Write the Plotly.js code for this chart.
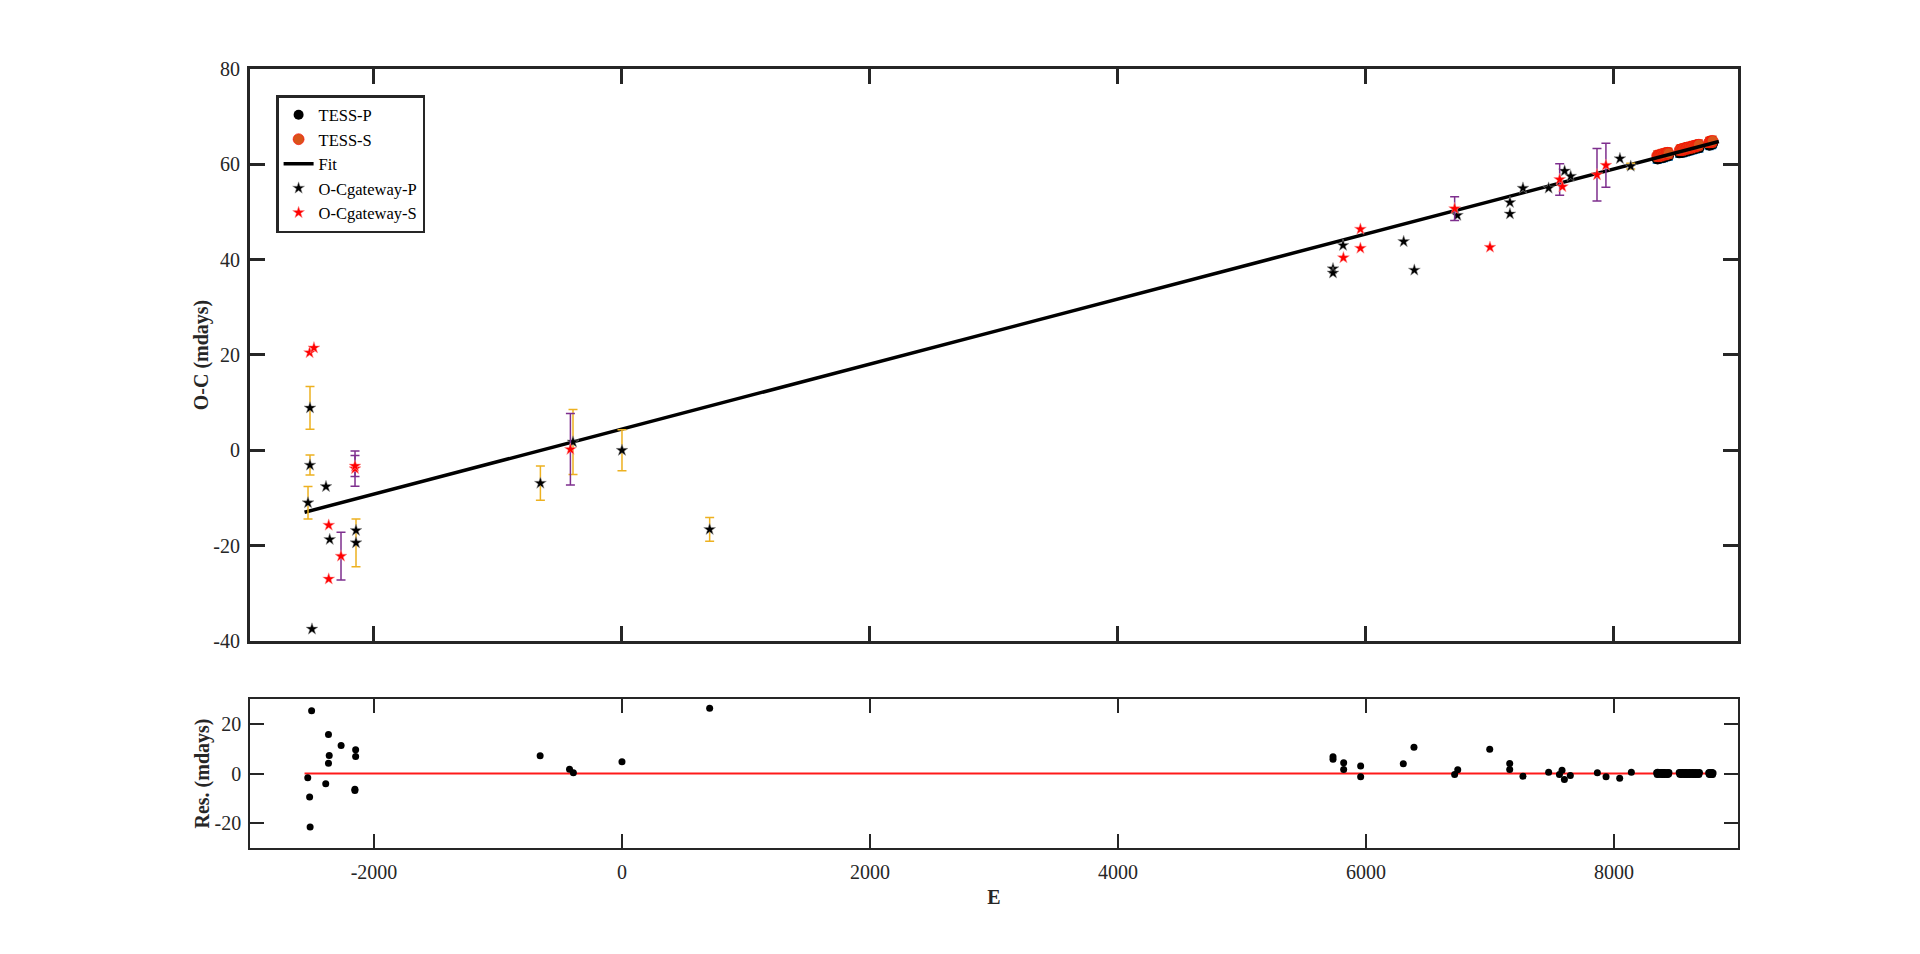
<!DOCTYPE html>
<html>
<head>
<meta charset="utf-8">
<script src="https://cdn.plot.ly/plotly-3.0.1.min.js"></script>
<style>
  html, body { margin: 0; padding: 0; background: #fff; }
  #oc_graph { width: 1920px; height: 954px; }
</style>
</head>
<body>
<div id="oc_graph"></div>
<script>
// O-Cgateway primary minima (epoch, O-C in mdays, error; NaN = no error bar)
var gwP_E   = [-2532, -2516, -2516, -2500, -2387, -2357, -2145, -2145, -658, -395, 0, 707,
               5734, 5734, 5815, 6304, 6390, 6737, 7161, 7161, 7266, 7473, 7602, 7651, 8048, 8135];
var gwP_OC  = [-11.0, -3.1, 8.9, -37.5, -7.6, -18.7, -16.8, -19.4, -6.9, 1.75, 0.0, -16.6,
               38.1, 37.2, 43.0, 43.8, 37.8, 49.3, 52.0, 49.6, 55.0, 55.0, 58.6, 57.5, 61.2, 59.6];
var gwP_err = [3.4, 2.1, 4.5, NaN, NaN, NaN, NaN, 5.0, 3.6, 6.8, 4.3, 2.5,
               NaN, NaN, NaN, NaN, NaN, NaN, NaN, NaN, NaN, NaN, NaN, NaN, NaN, 0.6];

// O-Cgateway secondary minima
var gwS_E   = [-2519, -2484, -2365, -2365, -2266, -2153, -2153, -416,
               5818, 5955, 5955, 6715, 7000, 7562, 7584, 7863, 7935];
var gwS_OC  = [20.5, 21.5, -15.7, -27.0, -22.2, -3.85, -3.3, 0.2,
               40.4, 46.4, 42.4, 50.7, 42.6, 56.8, 55.3, 57.8, 59.8];
var gwS_err = [NaN, NaN, NaN, NaN, 5.0, 3.7, 2.2, 7.5,
               NaN, NaN, NaN, 2.5, NaN, 3.3, NaN, 5.5, 4.6];

// TESS primary minima
var tessP_E  = [8344, 8352, 8361, 8369, 8378, 8386, 8395, 8403, 8411, 8420, 8428, 8437, 8443,
                8526, 8535, 8545, 8553, 8562, 8572, 8580, 8589, 8598, 8608, 8616, 8625, 8634, 8644, 8652, 8661, 8671, 8679, 8689,
                8764, 8771, 8779, 8785, 8792, 8799];
var tessP_OC = [61.1, 61.0, 61.3, 61.2, 61.4, 61.3, 61.5, 61.4, 61.6, 61.6, 61.7, 61.8, 61.7,
                62.3, 62.4, 62.5, 62.4, 62.6, 62.7, 62.6, 62.8, 62.9, 62.8, 63.0, 63.1, 63.0, 63.2, 63.3, 63.2, 63.4, 63.5, 63.4,
                64.0, 63.9, 64.1, 64.2, 64.1, 64.3];
var tessP_err = 0.8;

// TESS secondary minima
var tessS_E  = [8348.5, 8356.5, 8365.5, 8373.5, 8382.5, 8390.5, 8399.5, 8407.5, 8415.5, 8424.5, 8432.5, 8440.5,
                8530.5, 8540.5, 8549.5, 8558.5, 8567.5, 8576.5, 8585.5, 8594.5, 8603.5, 8612.5, 8621.5, 8630.5, 8639.5, 8648.5, 8657.5, 8666.5, 8675.5, 8684.5,
                8767.5, 8775.5, 8782.5, 8788.5, 8795.5];
var tessS_OC = [61.8, 61.7, 61.9, 61.8, 62.0, 62.1, 62.0, 62.2, 62.1, 62.3, 62.4, 62.3,
                63.0, 63.1, 63.0, 63.2, 63.3, 63.2, 63.4, 63.5, 63.4, 63.6, 63.5, 63.7, 63.8, 63.7, 63.9, 63.9, 64.0, 64.1,
                64.6, 64.7, 64.8, 64.7, 64.9];
var tessS_err = 1.0;

// linear ephemeris fit (end points)
var fit_E  = [-2560, 8846];
var fit_OC = [-13.0, 64.8];

// residuals (mdays)
var resGw_E = [-2534, -2519, -2515, -2503, -2389, -2367, -2361, -2367, -2265, -2148, -2148, -2154, -2154, -660, -423, -392, 0, 707,
               5734, 5734, 5820, 5820, 5957, 5957, 6301, 6387, 6715, 6740, 6998, 7159, 7159, 7266, 7473, 7560, 7581, 7600, 7648, 7866, 7936, 8046, 8140];
var resGw_V = [-1.7, -9.5, -21.5, 25.3, -4.1, 15.7, 7.3, 4.1, 11.3, 9.6, 6.8, -6.3, -6.8, 7.1, 1.7, 0.3, 4.7, 26.3,
               6.7, 5.7, 4.3, 1.6, 3.0, -1.3, 3.9, 10.6, -0.4, 1.5, 9.8, 4.0, 1.6, -1.1, 0.5, -0.4, 1.3, -2.4, -0.8, 0.3, -1.3, -1.9, 0.5];
var resTessP_V = [0.3, 0.5, 0.2, 0.4, 0.2, 0.4, 0.3, 0.4, 0.3, 0.3, 0.3, 0.2, 0.4,
                  0.4, 0.3, 0.3, 0.4, 0.3, 0.3, 0.4, 0.3, 0.2, 0.4, 0.3, 0.2, 0.4, 0.3, 0.2, 0.4, 0.2, 0.2, 0.4,
                  0.3, 0.4, 0.3, 0.2, 0.4, 0.2];
var resTessS_V = [-0.4, -0.2, -0.3, -0.2, -0.3, -0.4, -0.2, -0.4, -0.2, -0.3, -0.4, -0.2,
                  -0.3, -0.4, -0.2, -0.3, -0.4, -0.2, -0.4, -0.4, -0.2, -0.4, -0.2, -0.3, -0.4, -0.2, -0.4, -0.3, -0.3, -0.4,
                  -0.3, -0.4, -0.4, -0.3, -0.4];
var zero_E = [-2560, 8800];
var zero_V = [0, 0];

// tick labels (MATLAB style hyphen minus)
var mainTicks  = [-40, -20, 0, 20, 40, 60, 80];
var mainLabels = ['-40', '-20', '0', '20', '40', '60', '80'];
var resTicks   = [-20, 0, 20];
var resLabels  = ['-20', '0', '20'];
var eTicks     = [-2000, 0, 2000, 4000, 6000, 8000];
var eLabels    = ['-2000', '0', '2000', '4000', '6000', '8000'];

var FONT = '"Liberation Serif", "Times New Roman", serif';
var AX = '#262626';

var graph = document.getElementById('oc_graph');

var data = [
  {
    x: tessP_E, y: tessP_OC, name: 'TESS-P', mode: 'markers', xaxis: 'x', yaxis: 'y',
    marker: {symbol: 'circle', size: 10, color: 'black'},
    error_y: {type: 'constant', value: tessP_err, color: '#0072BD', thickness: 1.5, width: 4}
  },
  {
    x: tessS_E, y: tessS_OC, name: 'TESS-S', mode: 'markers', xaxis: 'x', yaxis: 'y',
    marker: {symbol: 'circle', size: 11, color: '#D95319', line: {color: 'red', width: 0.6}},
    error_y: {type: 'constant', value: tessS_err, color: '#D95319', thickness: 1.5, width: 4}
  },
  {
    x: fit_E, y: fit_OC, name: 'Fit', mode: 'lines', xaxis: 'x', yaxis: 'y',
    line: {color: 'black', width: 3.5}
  },
  {
    x: gwP_E, y: gwP_OC, name: 'O-Cgateway-P', mode: 'markers', xaxis: 'x', yaxis: 'y',
    marker: {symbol: 'star', size: 9, color: 'black', line: {color: '#999', width: 0.5}},
    error_y: {type: 'data', array: gwP_err, color: '#EDB120', thickness: 1.5, width: 4.5}
  },
  {
    x: gwS_E, y: gwS_OC, name: 'O-Cgateway-S', mode: 'markers', xaxis: 'x', yaxis: 'y',
    marker: {symbol: 'star', size: 9, color: 'red', line: {color: '#f99', width: 0.5}},
    error_y: {type: 'data', array: gwS_err, color: '#7E2F8E', thickness: 1.5, width: 4.5}
  },
  // residual panel
  {
    x: zero_E, y: zero_V, mode: 'lines', xaxis: 'x2', yaxis: 'y2', showlegend: false,
    line: {color: '#ff1a1a', width: 2}
  },
  {
    x: resGw_E, y: resGw_V, mode: 'markers', xaxis: 'x2', yaxis: 'y2', showlegend: false,
    marker: {symbol: 'circle', size: 7, color: 'black'}
  },
  {
    x: tessP_E, y: resTessP_V, mode: 'markers', xaxis: 'x2', yaxis: 'y2', showlegend: false,
    marker: {symbol: 'circle', size: 7, color: 'black'}
  },
  {
    x: tessS_E, y: resTessS_V, mode: 'markers', xaxis: 'x2', yaxis: 'y2', showlegend: false,
    marker: {symbol: 'circle', size: 7, color: 'black'}
  }
];

var tickFont = {family: FONT, size: 20, color: AX};
var titleFont = {family: FONT, size: 20, color: AX, weight: 'bold'};

var layout = {
  width: 1920,
  height: 954,
  margin: {l: 0, r: 0, t: 0, b: 0},
  paper_bgcolor: 'white',
  plot_bgcolor: 'white',
  font: {family: FONT, color: AX},
  showlegend: true,
  legend: {
    x: 0.1438, y: 0.9004, xanchor: 'left', yanchor: 'top',
    bgcolor: 'white', bordercolor: AX, borderwidth: 2.5,
    font: {family: FONT, size: 16.5, color: 'black'},
    tracegroupgap: 0, itemwidth: 30
  },
  xaxis: {
    domain: [0.1302, 0.9052], anchor: 'y', range: [-3000, 9000],
    tickvals: eTicks, showticklabels: false,
    ticks: 'inside', ticklen: 15, tickwidth: 2.5, tickcolor: AX,
    showline: true, linewidth: 3, linecolor: AX, mirror: 'ticks',
    showgrid: false, zeroline: false
  },
  yaxis: {
    domain: [0.3281, 0.9277], anchor: 'x', range: [-40, 80],
    tickvals: mainTicks, ticktext: mainLabels, tickfont: tickFont, ticklabelstandoff: 3,
    ticks: 'inside', ticklen: 15, tickwidth: 2.5, tickcolor: AX,
    showline: true, linewidth: 3, linecolor: AX, mirror: 'ticks',
    showgrid: false, zeroline: false,
    title: {text: 'O-C (mdays)', font: titleFont, standoff: 0}
  },
  xaxis2: {
    domain: [0.1302, 0.9052], anchor: 'y2', range: [-3000, 9000],
    tickvals: eTicks, ticktext: eLabels, tickfont: tickFont, ticklabelstandoff: 5,
    ticks: 'inside', ticklen: 14, tickwidth: 1.5, tickcolor: AX,
    showline: true, linewidth: 1.5, linecolor: AX, mirror: 'ticks',
    showgrid: false, zeroline: false,
    title: {text: 'E', font: titleFont, standoff: 8}
  },
  yaxis2: {
    domain: [0.1111, 0.2673], anchor: 'x2', range: [-30, 30],
    tickvals: resTicks, ticktext: resLabels, tickfont: tickFont, ticklabelstandoff: 3,
    ticks: 'inside', ticklen: 14, tickwidth: 1.5, tickcolor: AX,
    showline: true, linewidth: 1.5, linecolor: AX, mirror: 'ticks',
    showgrid: false, zeroline: false,
    title: {text: 'Res. (mdays)', font: titleFont, standoff: 0}
  }
};

Plotly.newPlot(graph, data, layout, {displayModeBar: false, responsive: false});
</script>
</body>
</html>
